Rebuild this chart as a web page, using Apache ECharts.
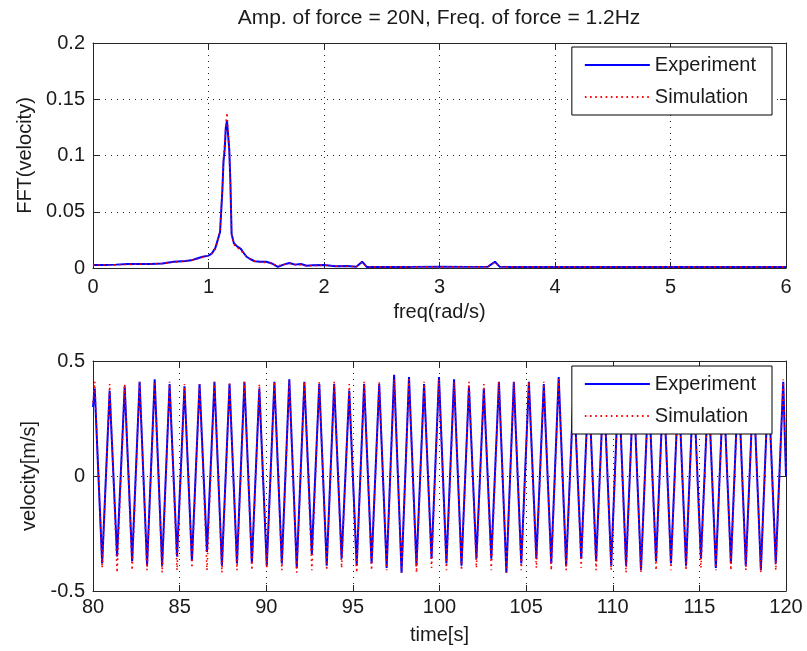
<!DOCTYPE html>
<html><head><meta charset="utf-8">
<script src="https://cdn.jsdelivr.net/npm/echarts@6/dist/echarts.min.js"></script>
<style>html,body{margin:0;padding:0;background:#fff}#c{width:807px;height:651px}</style>
</head><body><div id="c"></div>
<script>
const titleText = 'Amp. of force = 20N, Freq. of force = 1.2Hz';
const seriesNames = ['Experiment', 'Simulation'];

// ---- FFT (top panel) ----
const fftFreq = [0, 0.1, 0.2, 0.3, 0.4, 0.5, 0.6, 0.7, 0.8, 0.85,
  0.9, 0.95, 1.0, 1.03, 1.06, 1.08, 1.1, 1.12, 1.13, 1.14,
  1.15, 1.16, 1.17, 1.18, 1.19, 1.2, 1.22, 1.25, 1.28, 1.3,
  1.33, 1.36, 1.4, 1.45, 1.5, 1.55, 1.6, 1.65, 1.7, 1.75,
  1.8, 1.85, 1.9, 2.0, 2.1, 2.2, 2.28, 2.33, 2.37, 2.5,
  2.75, 3.0, 3.25, 3.42, 3.48, 3.52, 3.6, 4.0, 4.5, 5.0,
  5.5, 6.0];
const fftExp = [0.0027, 0.0027, 0.0030, 0.0035, 0.0036, 0.0036, 0.0040, 0.0055, 0.0062, 0.0068,
  0.0085, 0.0100, 0.0110, 0.0130, 0.0180, 0.0250, 0.0320, 0.0690, 0.0950, 0.1050,
  0.1250, 0.1310, 0.1180, 0.1050, 0.0750, 0.0300, 0.0220, 0.0190, 0.0170, 0.0140,
  0.0100, 0.0080, 0.0060, 0.0055, 0.0056, 0.0040, 0.0010, 0.0030, 0.0044, 0.0030,
  0.0035, 0.0020, 0.0025, 0.0027, 0.0015, 0.0018, 0.0012, 0.0056, 0.0010, 0.0010,
  0.0010, 0.0012, 0.0010, 0.0012, 0.0056, 0.0012, 0.0010, 0.0010, 0.0010, 0.0010,
  0.0010, 0.0010];
const fftSim = [0.0025, 0.0026, 0.0028, 0.0032, 0.0034, 0.0036, 0.0040, 0.0052, 0.0060, 0.0066,
  0.0080, 0.0095, 0.0110, 0.0130, 0.0170, 0.0240, 0.0340, 0.0700, 0.0980, 0.1100,
  0.1280, 0.1380, 0.1200, 0.1040, 0.0720, 0.0300, 0.0210, 0.0180, 0.0160, 0.0130,
  0.0100, 0.0080, 0.0060, 0.0050, 0.0050, 0.0040, 0.0020, 0.0030, 0.0040, 0.0030,
  0.0030, 0.0020, 0.0020, 0.0025, 0.0015, 0.0015, 0.0012, 0.0050, 0.0010, 0.0010,
  0.0010, 0.0010, 0.0010, 0.0010, 0.0050, 0.0010, 0.0010, 0.0010, 0.0010, 0.0010,
  0.0010, 0.0010];

// ---- Time history (bottom panel) ----
const timeStart = 80, timeEnd = 120;
const peakTimes = [80.10, 80.96, 81.83, 82.69, 83.56, 84.42, 85.28, 86.15, 87.01, 87.88,
  88.74, 89.60, 90.47, 91.33, 92.20, 93.06, 93.92, 94.79, 95.65, 96.52,
  97.38, 98.24, 99.11, 99.97, 100.84, 101.70, 102.56, 103.43, 104.29, 105.16,
  106.02, 106.88, 107.75, 108.61, 109.48, 110.34, 111.20, 112.07, 112.93, 113.80,
  114.66, 115.52, 116.39, 117.25, 118.12, 118.98, 119.84];
const troughTimes = [80.53, 81.39, 82.26, 83.12, 83.99, 84.85, 85.71, 86.58, 87.44, 88.31,
  89.17, 90.03, 90.90, 91.76, 92.63, 93.49, 94.35, 95.22, 96.08, 96.95,
  97.81, 98.67, 99.54, 100.40, 101.27, 102.13, 102.99, 103.86, 104.72, 105.59,
  106.45, 107.31, 108.18, 109.04, 109.91, 110.77, 111.63, 112.50, 113.36, 114.23,
  115.09, 115.95, 116.82, 117.68, 118.55, 119.41];
const expPeaks = [0.38, 0.37, 0.39, 0.41, 0.42, 0.40, 0.39, 0.40, 0.41, 0.40,
  0.41, 0.38, 0.41, 0.42, 0.41, 0.40, 0.40, 0.37, 0.40, 0.40,
  0.44, 0.43, 0.40, 0.43, 0.42, 0.39, 0.38, 0.41, 0.41, 0.41,
  0.40, 0.43, 0.39, 0.41, 0.40, 0.42, 0.40, 0.39, 0.41, 0.40,
  0.41, 0.39, 0.40, 0.42, 0.40, 0.41, 0.41];
const expTroughs = [-0.38, -0.35, -0.37, -0.39, -0.39, -0.35, -0.37, -0.33, -0.39, -0.38,
  -0.38, -0.39, -0.38, -0.40, -0.34, -0.39, -0.36, -0.39, -0.38, -0.40,
  -0.42, -0.39, -0.36, -0.38, -0.39, -0.36, -0.36, -0.42, -0.38, -0.36,
  -0.38, -0.39, -0.36, -0.37, -0.39, -0.39, -0.41, -0.37, -0.38, -0.39,
  -0.36, -0.40, -0.38, -0.39, -0.41, -0.38];
const simPeaks = [0.41, 0.40, 0.40, 0.41, 0.41, 0.41, 0.40, 0.40, 0.41, 0.41,
  0.41, 0.40, 0.41, 0.41, 0.41, 0.41, 0.41, 0.40, 0.41, 0.41,
  0.42, 0.42, 0.41, 0.42, 0.41, 0.41, 0.40, 0.41, 0.41, 0.41,
  0.41, 0.42, 0.41, 0.41, 0.41, 0.41, 0.41, 0.40, 0.41, 0.41,
  0.41, 0.40, 0.41, 0.41, 0.41, 0.41, 0.42];
const simTroughs = [-0.40, -0.42, -0.41, -0.41, -0.42, -0.41, -0.40, -0.41, -0.42, -0.41,
  -0.41, -0.40, -0.41, -0.42, -0.41, -0.41, -0.40, -0.42, -0.41, -0.41,
  -0.42, -0.42, -0.40, -0.41, -0.41, -0.40, -0.41, -0.42, -0.41, -0.40,
  -0.41, -0.41, -0.40, -0.41, -0.41, -0.42, -0.42, -0.41, -0.41, -0.41,
  -0.40, -0.41, -0.41, -0.41, -0.42, -0.41];
const expEdge = [0.30, 0.00];   // values at t=80 and t=120
const simEdge = [0.32, 0.03];

function pairs(xs, ys) { return xs.map((x, i) => [x, ys[i]]); }
function wave(peaks, troughs, edge) {
  const pts = [[timeStart, edge[0]]];
  for (let k = 0; k < peakTimes.length; k++) {
    pts.push([peakTimes[k], peaks[k]]);
    if (k < troughTimes.length) pts.push([troughTimes[k], troughs[k]]);
  }
  pts.push([timeEnd, edge[1]]);
  return pts;
}

const FONT = 'Liberation Sans, Arial, Helvetica, sans-serif';
const TXT = '#1a1a1a';
const AX = '#262626';
const gridLine = { show: true, lineStyle: { color: '#222', width: 1, type: [1, 5] } };

function mainX(grid, min, max, interval, name, nameGap, margin) {
  return {
    type: 'value', gridIndex: grid, position: 'bottom', min, max, interval,
    name, nameLocation: 'middle', nameGap,
    nameTextStyle: { fontFamily: FONT, fontSize: 20, color: TXT },
    axisLine: { show: true, onZero: false, lineStyle: { color: AX, width: 1 } },
    axisTick: { show: true, inside: true, length: 6, lineStyle: { color: AX } },
    axisLabel: { fontFamily: FONT, fontSize: 20, color: TXT, margin },
    splitLine: gridLine
  };
}
function boxX(grid, min, max, interval) {
  return {
    type: 'value', gridIndex: grid, position: 'top', min, max, interval,
    axisLine: { show: true, onZero: false, lineStyle: { color: AX, width: 1 } },
    axisTick: { show: true, inside: true, length: 6, lineStyle: { color: AX } },
    axisLabel: { show: false }, splitLine: { show: false }
  };
}
function mainY(grid, min, max, interval, name, nameGap) {
  return {
    type: 'value', gridIndex: grid, position: 'left', min, max, interval,
    name, nameLocation: 'middle', nameGap,
    nameTextStyle: { fontFamily: FONT, fontSize: 20, color: TXT },
    axisLine: { show: true, onZero: false, lineStyle: { color: AX, width: 1 } },
    axisTick: { show: true, inside: true, length: 6, lineStyle: { color: AX } },
    axisLabel: { fontFamily: FONT, fontSize: 20, color: TXT, margin: 8 },
    splitLine: gridLine
  };
}
function boxY(grid, min, max, interval) {
  return {
    type: 'value', gridIndex: grid, position: 'right', min, max, interval,
    axisLine: { show: true, onZero: false, lineStyle: { color: AX, width: 1 } },
    axisTick: { show: true, inside: true, length: 6, lineStyle: { color: AX } },
    axisLabel: { show: false }, splitLine: { show: false }
  };
}
function legend(top) {
  return {
    orient: 'vertical', right: 35, top,
    data: seriesNames,
    itemWidth: 65, itemHeight: 14, itemGap: 12,
    padding: [8, 16, 8, 12],
    itemStyle: { opacity: 0 },
    backgroundColor: '#fff', borderColor: '#000', borderWidth: 1,
    textStyle: { fontFamily: FONT, fontSize: 20, color: TXT, lineHeight: 20 },
    selectedMode: false
  };
}

const BLUE = { color: '#0000ff', width: 2 };
const RED = { color: '#ff0000', width: 1.6, type: [1.6, 3.6] };

const chart = echarts.init(document.getElementById('c'), null, { renderer: 'canvas' });
chart.setOption({
  backgroundColor: '#fff',
  animation: false,
  title: {
    text: titleText, left: 439, top: 8, textAlign: 'center', padding: 0,
    textStyle: { fontFamily: FONT, fontSize: 21, fontWeight: 'normal', color: TXT }
  },
  legend: [legend(47), legend(366)],
  grid: [
    { left: 93, right: 21, top: 43, bottom: 383 },
    { left: 93, right: 21, top: 361, bottom: 60 }
  ],
  xAxis: [
    mainX(0, 0, 6, 1, 'freq(rad/s)', 34, 9),
    boxX(0, 0, 6, 1),
    mainX(1, 80, 120, 5, 'time[s]', 34, 6),
    boxX(1, 80, 120, 5)
  ],
  yAxis: [
    mainY(0, 0, 0.2, 0.05, 'FFT(velocity)', 58),
    boxY(0, 0, 0.2, 0.05),
    mainY(1, -0.5, 0.5, 0.5, 'velocity[m/s]', 53),
    boxY(1, -0.5, 0.5, 0.5)
  ],
  series: [
    { name: 'Experiment', type: 'line', xAxisIndex: 0, yAxisIndex: 0, data: pairs(fftFreq, fftExp),
      symbol: 'none', lineStyle: BLUE, itemStyle: { color: '#0000ff' } },
    { name: 'Simulation', type: 'line', xAxisIndex: 0, yAxisIndex: 0, data: pairs(fftFreq, fftSim),
      symbol: 'none', lineStyle: RED, itemStyle: { color: '#ff0000' } },
    { name: 'Experiment', type: 'line', xAxisIndex: 2, yAxisIndex: 2, data: wave(expPeaks, expTroughs, expEdge),
      symbol: 'none', lineStyle: BLUE, itemStyle: { color: '#0000ff' } },
    { name: 'Simulation', type: 'line', xAxisIndex: 2, yAxisIndex: 2, data: wave(simPeaks, simTroughs, simEdge),
      symbol: 'none', lineStyle: RED, itemStyle: { color: '#ff0000' } }
  ]
});
</script>
</body></html>
